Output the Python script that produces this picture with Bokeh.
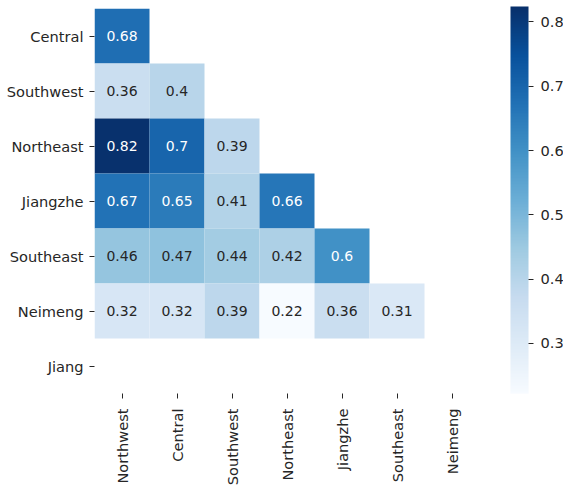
import numpy as np
from bokeh.plotting import figure
from bokeh.models import ColumnDataSource, LinearColorMapper, ColorBar, FixedTicker, FactorRange
from bokeh.core.properties import value
from bokeh.palettes import Blues256
from bokeh.embed import file_html
from bokeh.resources import INLINE

row_labels = ["Central", "Southwest", "Northeast", "Jiangzhe", "Southeast", "Neimeng", "Jiang"]
col_labels = ["Northwest", "Central", "Southwest", "Northeast", "Jiangzhe", "Southeast", "Neimeng"]

central = [0.68]
southwest = [0.36, 0.40]
northeast = [0.82, 0.70, 0.39]
jiangzhe = [0.67, 0.65, 0.41, 0.66]
southeast = [0.46, 0.47, 0.44, 0.42, 0.60]
neimeng = [0.32, 0.32, 0.39, 0.22, 0.36, 0.31]
jiang = []

rows_values = [central, southwest, northeast, jiangzhe, southeast, neimeng, jiang]

color_low = 0.222
color_high = 0.824
colorbar_ticks = [0.3, 0.4, 0.5, 0.6, 0.7, 0.8]

xs, ys, vals, labels, tcolors = [], [], [], [], []
for rname, rvals in zip(row_labels, rows_values):
    for j, v in enumerate(rvals):
        xs.append(col_labels[j])
        ys.append(rname)
        vals.append(v)
        labels.append(("%.2f" % v).rstrip("0").rstrip("."))
        tcolors.append("#ffffff" if v > 0.55 else "#262626")

src = ColumnDataSource(dict(x=xs, y=ys, v=vals, label=labels, tc=tcolors))

palette = tuple(reversed(Blues256))
mapper = LinearColorMapper(palette=palette, low=color_low, high=color_high)

p = figure(frame_width=385, frame_height=385, x_range=FactorRange(*col_labels),
           y_range=FactorRange(*list(reversed(row_labels))),
           output_backend="svg", toolbar_location=None,
           min_border_left=94, min_border_top=8, min_border_bottom=93, min_border_right=0)

p.rect(x="x", y="y", width=1, height=1, source=src,
       fill_color={"field": "v", "transform": mapper}, line_color=None)
p.text(x="x", y="y", text="label", source=src, text_color="tc",
       text_align="center", text_baseline="middle",
       text_font_size="14px", text_font=value("DejaVu Sans"))

p.outline_line_color = None
p.grid.grid_line_color = None
for ax in (p.xaxis, p.yaxis):
    ax.axis_line_color = None
    ax.major_tick_line_color = "#262626"
    ax.major_tick_out = 5
    ax.major_tick_in = 0
    ax.major_label_text_font = "DejaVu Sans"
    ax.major_label_text_font_size = "14.6px"
    ax.major_label_text_color = "#262626"
p.yaxis.major_label_standoff = 6
p.xaxis.major_label_standoff = 10
p.xaxis.major_label_orientation = np.pi / 2

cb = ColorBar(color_mapper=mapper, ticker=FixedTicker(ticks=colorbar_ticks),
              width=18, height=387, padding=0, margin=0,
              major_tick_in=0, major_tick_out=5, major_tick_line_color="#262626",
              label_standoff=7, major_label_text_font="DejaVu Sans",
              major_label_text_font_size="14.6px", major_label_text_color="#262626",
              bar_line_color=None, border_line_color=None, background_fill_alpha=0,
              location=(31, 0))
p.add_layout(cb, "right")

open("out.html", "w").write(file_html(p, INLINE))
